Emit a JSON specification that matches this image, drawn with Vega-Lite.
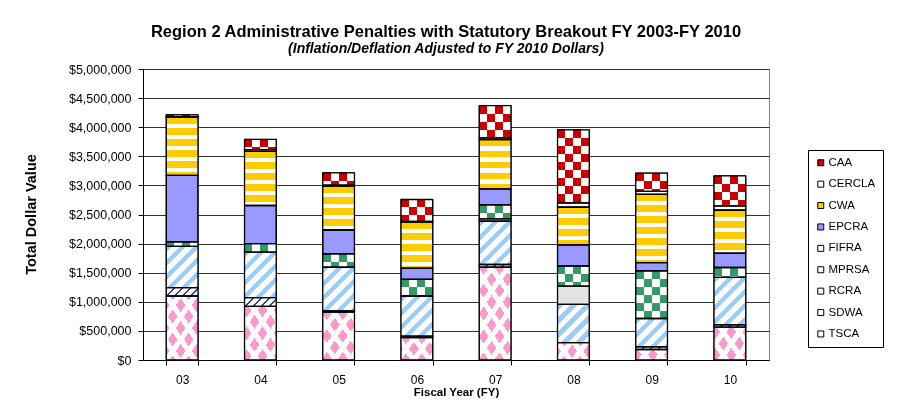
{
  "$schema": "https://vega.github.io/schema/vega-lite/v6.json",
  "width": 626,
  "height": 291,
  "autosize": {"type": "none"},
  "padding": {"left": 143, "top": 69, "right": 132, "bottom": 47},
  "background": "white",
  "title": {
    "text": "Region 2 Administrative Penalties with Statutory Breakout FY 2003-FY 2010",
    "subtitle": "(Inflation/Deflation Adjusted to FY 2010 Dollars)",
    "font": "Liberation Sans",
    "fontSize": 16.5,
    "fontWeight": "bold",
    "color": "#000",
    "subtitleFont": "Liberation Sans",
    "subtitleFontSize": 14,
    "subtitleFontWeight": "bold",
    "subtitleFontStyle": "italic",
    "subtitleColor": "#000",
    "subtitlePadding": 2,
    "anchor": "middle",
    "frame": "group",
    "offset": 7,
    "dx": -10
  },
  "params": [
    {"name": "vStops", "value": [{"offset":0,"color":"#000"},{"offset":0.25,"color":"#000"},{"offset":0.25,"color":"#fff"},{"offset":0.5,"color":"#fff"},{"offset":0.5,"color":"#000"},{"offset":0.75,"color":"#000"},{"offset":0.75,"color":"#fff"},{"offset":1,"color":"#fff"}]},
    {"name": "hStops", "value": [{"offset":0,"color":"#000"},{"offset":0.1,"color":"#000"},{"offset":0.1,"color":"#fff"},{"offset":0.2,"color":"#fff"},{"offset":0.2,"color":"#000"},{"offset":0.3,"color":"#000"},{"offset":0.3,"color":"#fff"},{"offset":0.4,"color":"#fff"},{"offset":0.4,"color":"#000"},{"offset":0.5,"color":"#000"},{"offset":0.5,"color":"#fff"},{"offset":0.6,"color":"#fff"},{"offset":0.6,"color":"#000"},{"offset":0.7,"color":"#000"},{"offset":0.7,"color":"#fff"},{"offset":0.8,"color":"#fff"},{"offset":0.8,"color":"#000"},{"offset":0.9,"color":"#000"},{"offset":0.9,"color":"#fff"},{"offset":1,"color":"#fff"}]},
    {"name": "cwaStops", "value": [{"offset":0,"color":"#000"},{"offset":0.084286,"color":"#000"},{"offset":0.084286,"color":"#fff"},{"offset":0.142857,"color":"#fff"},{"offset":0.142857,"color":"#000"},{"offset":0.227143,"color":"#000"},{"offset":0.227143,"color":"#fff"},{"offset":0.285714,"color":"#fff"},{"offset":0.285714,"color":"#000"},{"offset":0.37,"color":"#000"},{"offset":0.37,"color":"#fff"},{"offset":0.428571,"color":"#fff"},{"offset":0.428571,"color":"#000"},{"offset":0.512857,"color":"#000"},{"offset":0.512857,"color":"#fff"},{"offset":0.571429,"color":"#fff"},{"offset":0.571429,"color":"#000"},{"offset":0.655714,"color":"#000"},{"offset":0.655714,"color":"#fff"},{"offset":0.714286,"color":"#fff"},{"offset":0.714286,"color":"#000"},{"offset":0.798571,"color":"#000"},{"offset":0.798571,"color":"#fff"},{"offset":0.857143,"color":"#fff"},{"offset":0.857143,"color":"#000"},{"offset":0.941429,"color":"#000"},{"offset":0.941429,"color":"#fff"},{"offset":1,"color":"#fff"}]},
    {"name": "rcraStops", "value": [{"offset":0,"color":"#000"},{"offset":0.064286,"color":"#000"},{"offset":0.064286,"color":"#fff"},{"offset":0.142857,"color":"#fff"},{"offset":0.142857,"color":"#000"},{"offset":0.207143,"color":"#000"},{"offset":0.207143,"color":"#fff"},{"offset":0.285714,"color":"#fff"},{"offset":0.285714,"color":"#000"},{"offset":0.35,"color":"#000"},{"offset":0.35,"color":"#fff"},{"offset":0.428571,"color":"#fff"},{"offset":0.428571,"color":"#000"},{"offset":0.492857,"color":"#000"},{"offset":0.492857,"color":"#fff"},{"offset":0.571429,"color":"#fff"},{"offset":0.571429,"color":"#000"},{"offset":0.635714,"color":"#000"},{"offset":0.635714,"color":"#fff"},{"offset":0.714286,"color":"#fff"},{"offset":0.714286,"color":"#000"},{"offset":0.778571,"color":"#000"},{"offset":0.778571,"color":"#fff"},{"offset":0.857143,"color":"#fff"},{"offset":0.857143,"color":"#000"},{"offset":0.921429,"color":"#000"},{"offset":0.921429,"color":"#fff"},{"offset":1,"color":"#fff"}]},
    {"name": "tscaStops", "value": [{"offset":0,"color":"#000"},{"offset":0.085714,"color":"#000"},{"offset":0.085714,"color":"#fff"},{"offset":0.142857,"color":"#fff"},{"offset":0.142857,"color":"#000"},{"offset":0.228571,"color":"#000"},{"offset":0.228571,"color":"#fff"},{"offset":0.285714,"color":"#fff"},{"offset":0.285714,"color":"#000"},{"offset":0.371429,"color":"#000"},{"offset":0.371429,"color":"#fff"},{"offset":0.428571,"color":"#fff"},{"offset":0.428571,"color":"#000"},{"offset":0.514286,"color":"#000"},{"offset":0.514286,"color":"#fff"},{"offset":0.571429,"color":"#fff"},{"offset":0.571429,"color":"#000"},{"offset":0.657143,"color":"#000"},{"offset":0.657143,"color":"#fff"},{"offset":0.714286,"color":"#fff"},{"offset":0.714286,"color":"#000"},{"offset":0.8,"color":"#000"},{"offset":0.8,"color":"#fff"},{"offset":0.857143,"color":"#fff"},{"offset":0.857143,"color":"#000"},{"offset":0.942857,"color":"#000"},{"offset":0.942857,"color":"#fff"},{"offset":1,"color":"#fff"}]},
    {"name": "sdwaStops", "value": [{"offset":0,"color":"#000"},{"offset":0.041667,"color":"#000"},{"offset":0.041667,"color":"#fff"},{"offset":0.166667,"color":"#fff"},{"offset":0.166667,"color":"#000"},{"offset":0.208333,"color":"#000"},{"offset":0.208333,"color":"#fff"},{"offset":0.333333,"color":"#fff"},{"offset":0.333333,"color":"#000"},{"offset":0.375,"color":"#000"},{"offset":0.375,"color":"#fff"},{"offset":0.5,"color":"#fff"},{"offset":0.5,"color":"#000"},{"offset":0.541667,"color":"#000"},{"offset":0.541667,"color":"#fff"},{"offset":0.666667,"color":"#fff"},{"offset":0.666667,"color":"#000"},{"offset":0.708333,"color":"#000"},{"offset":0.708333,"color":"#fff"},{"offset":0.833333,"color":"#fff"},{"offset":0.833333,"color":"#000"},{"offset":0.875,"color":"#000"},{"offset":0.875,"color":"#fff"},{"offset":1,"color":"#fff"}]}
  ],
  "data": {
    "values": [
      {"year": "03", "statute": "CAA", "value": 30000},
      {"year": "03", "statute": "CERCLA", "value": 10000},
      {"year": "03", "statute": "CWA", "value": 1000000},
      {"year": "03", "statute": "EPCRA", "value": 1145000},
      {"year": "03", "statute": "FIFRA", "value": 75000},
      {"year": "03", "statute": "RCRA", "value": 710000},
      {"year": "03", "statute": "SDWA", "value": 143000},
      {"year": "03", "statute": "TSCA", "value": 1100000},
      {"year": "04", "statute": "CAA", "value": 175000},
      {"year": "04", "statute": "CERCLA", "value": 30000},
      {"year": "04", "statute": "CWA", "value": 930000},
      {"year": "04", "statute": "EPCRA", "value": 657000},
      {"year": "04", "statute": "FIFRA", "value": 144000},
      {"year": "04", "statute": "RCRA", "value": 782000},
      {"year": "04", "statute": "SDWA", "value": 150000},
      {"year": "04", "statute": "TSCA", "value": 922000},
      {"year": "05", "statute": "CAA", "value": 212000},
      {"year": "05", "statute": "CERCLA", "value": 15000},
      {"year": "05", "statute": "CWA", "value": 755000},
      {"year": "05", "statute": "EPCRA", "value": 412000},
      {"year": "05", "statute": "FIFRA", "value": 228000},
      {"year": "05", "statute": "RCRA", "value": 750000},
      {"year": "05", "statute": "SDWA", "value": 20000},
      {"year": "05", "statute": "TSCA", "value": 824000},
      {"year": "06", "statute": "CAA", "value": 378000},
      {"year": "06", "statute": "CERCLA", "value": 10000},
      {"year": "06", "statute": "CWA", "value": 790000},
      {"year": "06", "statute": "EPCRA", "value": 194000},
      {"year": "06", "statute": "FIFRA", "value": 286000},
      {"year": "06", "statute": "RCRA", "value": 690000},
      {"year": "06", "statute": "SDWA", "value": 25000},
      {"year": "06", "statute": "TSCA", "value": 385000},
      {"year": "07", "statute": "CAA", "value": 555000},
      {"year": "07", "statute": "CERCLA", "value": 30000},
      {"year": "07", "statute": "CWA", "value": 846000},
      {"year": "07", "statute": "EPCRA", "value": 275000},
      {"year": "07", "statute": "FIFRA", "value": 240000},
      {"year": "07", "statute": "MPRSA", "value": 40000},
      {"year": "07", "statute": "RCRA", "value": 743000},
      {"year": "07", "statute": "SDWA", "value": 45000},
      {"year": "07", "statute": "TSCA", "value": 1596000},
      {"year": "08", "statute": "CAA", "value": 1255000},
      {"year": "08", "statute": "CERCLA", "value": 75000},
      {"year": "08", "statute": "CWA", "value": 646000},
      {"year": "08", "statute": "EPCRA", "value": 366000},
      {"year": "08", "statute": "FIFRA", "value": 343000},
      {"year": "08", "statute": "MPRSA", "value": 314000},
      {"year": "08", "statute": "RCRA", "value": 657000},
      {"year": "08", "statute": "TSCA", "value": 299000},
      {"year": "09", "statute": "CAA", "value": 314000},
      {"year": "09", "statute": "CERCLA", "value": 50000},
      {"year": "09", "statute": "CWA", "value": 1172000},
      {"year": "09", "statute": "EPCRA", "value": 144000},
      {"year": "09", "statute": "FIFRA", "value": 817000},
      {"year": "09", "statute": "RCRA", "value": 488000},
      {"year": "09", "statute": "SDWA", "value": 45000},
      {"year": "09", "statute": "TSCA", "value": 180000},
      {"year": "10", "statute": "CAA", "value": 515000},
      {"year": "10", "statute": "CERCLA", "value": 75000},
      {"year": "10", "statute": "CWA", "value": 737000},
      {"year": "10", "statute": "EPCRA", "value": 247000},
      {"year": "10", "statute": "FIFRA", "value": 171000},
      {"year": "10", "statute": "RCRA", "value": 812000},
      {"year": "10", "statute": "SDWA", "value": 40000},
      {"year": "10", "statute": "TSCA", "value": 566000}
    ]
  },
  "encoding": {
    "x": {
      "field": "year",
      "type": "nominal",
      "scale": {"paddingInner": 0.595, "paddingOuter": 0.2975},
      "axis": {
        "title": "Fiscal Year (FY)",
        "labelAngle": 0,
        "tickBand": "extent",
        "tickSize": 5,
        "labelPadding": 9,
        "titlePadding": 1,
        "titleFontSize": 11.5,
        "titleFontWeight": "bold",
        "grid": false
      }
    },
    "y": {
      "field": "value",
      "type": "quantitative",
      "stack": "zero",
      "scale": {"domain": [0, 5000000], "nice": false},
      "axis": {
        "title": "Total Dollar Value",
        "format": "$,.0f",
        "tickCount": 10,
        "grid": true,
        "gridColor": "#303030",
        "tickSize": 5,
        "labelPadding": 7,
        "labelFontSize": 12.5,
        "titleX": -112,
        "titleY": 145,
        "titleAngle": -90,
        "titleAlign": "center",
        "titleBaseline": "middle",
        "titleFontSize": 14.5,
        "titleFontWeight": "bold"
      }
    },
    "order": {"field": "statute", "type": "ordinal", "sort": "descending"},
    "detail": {"field": "statute", "type": "nominal"}
  },
  "layer": [
    {
      "mark": {"type": "bar", "stroke": "#000", "strokeWidth": 1},
      "encoding": {
        "fill": {
          "field": "statute",
          "type": "nominal",
          "scale": {
            "domain": ["CAA", "CERCLA", "CWA", "EPCRA", "FIFRA", "MPRSA", "RCRA", "SDWA", "TSCA"],
            "range": ["#cc0000", "#ffffff", "#ffcc00", "#9999ff", "#ffffff", "#ffffff", "#ffffff", "#ffffff", "#ffffff"]
          },
          "legend": {
            "orient": "none",
            "legendX": 665,
            "legendY": 81,
            "title": null,
            "strokeColor": "#000",
            "fillColor": "#fff",
            "padding": 7,
            "symbolType": "square",
            "symbolSize": 36,
            "symbolStrokeColor": "#000",
            "symbolStrokeWidth": 1,
            "labelFont": "Liberation Sans",
            "labelFontSize": 11.5,
            "labelColor": "#000",
            "labelOffset": 2,
            "rowPadding": 8.4
          }
        }
      }
    },
    {
      "mark": {"type": "bar"},
      "encoding": {
        "fill": {"value": {"expr": "(datum.statute=='CAA'||datum.statute=='FIFRA') ? {gradient:'linear',x1:0,y1:0,x2:1,y2:0,stops:vStops} : datum.statute=='CWA' ? {gradient:'linear',x1:0,y1:0,x2:0,y2:77/max(0.5,scale('y',datum.value_start)-scale('y',datum.value_end)),stops:cwaStops} : datum.statute=='RCRA' ? {gradient:'linear',x1:0,y1:0,x2:98*bandwidth('x')/(pow(bandwidth('x'),2)+pow(max(0.5,scale('y',datum.value_start)-scale('y',datum.value_end)),2)),y2:98*max(0.5,scale('y',datum.value_start)-scale('y',datum.value_end))/(pow(bandwidth('x'),2)+pow(max(0.5,scale('y',datum.value_start)-scale('y',datum.value_end)),2)),stops:rcraStops} : datum.statute=='TSCA' ? {gradient:'linear',x1:0,y1:0,x2:112*bandwidth('x')/(pow(bandwidth('x'),2)+0.49*pow(max(0.5,scale('y',datum.value_start)-scale('y',datum.value_end)),2)),y2:78.4*max(0.5,scale('y',datum.value_start)-scale('y',datum.value_end))/(pow(bandwidth('x'),2)+0.49*pow(max(0.5,scale('y',datum.value_start)-scale('y',datum.value_end)),2)),stops:tscaStops} : datum.statute=='SDWA' ? {gradient:'linear',x1:0,y1:0,x2:48*bandwidth('x')/(pow(bandwidth('x'),2)+pow(max(0.5,scale('y',datum.value_start)-scale('y',datum.value_end)),2)),y2:48*max(0.5,scale('y',datum.value_start)-scale('y',datum.value_end))/(pow(bandwidth('x'),2)+pow(max(0.5,scale('y',datum.value_start)-scale('y',datum.value_end)),2)),stops:sdwaStops} : datum.statute=='MPRSA' ? '#e3e3e3' : 'transparent'"}}
      }
    },
    {
      "mark": {"type": "bar", "blend": "difference"},
      "encoding": {
        "fill": {"value": {"expr": "(datum.statute=='CAA'||datum.statute=='FIFRA') ? {gradient:'linear',x1:0,y1:0,x2:0,y2:80/max(0.5,scale('y',datum.value_start)-scale('y',datum.value_end)),stops:hStops} : 'transparent'"}}
      }
    },
    {
      "mark": {"type": "bar", "blend": "lighten"},
      "encoding": {
        "fill": {"value": {"expr": "datum.statute=='TSCA' ? {gradient:'linear',x1:0,y1:1,x2:112*bandwidth('x')/(pow(bandwidth('x'),2)+0.49*pow(max(0.5,scale('y',datum.value_start)-scale('y',datum.value_end)),2)),y2:1-78.4*max(0.5,scale('y',datum.value_start)-scale('y',datum.value_end))/(pow(bandwidth('x'),2)+0.49*pow(max(0.5,scale('y',datum.value_start)-scale('y',datum.value_end)),2)),stops:tscaStops} : 'transparent'"}}
      }
    },
    {
      "mark": {"type": "bar", "blend": "screen"},
      "encoding": {
        "fill": {"value": {"expr": "datum.statute=='CAA' ? '#cc0000' : datum.statute=='FIFRA' ? '#339966' : datum.statute=='TSCA' ? '#ff99cc' : datum.statute=='CWA' ? '#ffcc00' : datum.statute=='RCRA' ? '#99ccff' : datum.statute=='SDWA' ? '#333399' : 'transparent'"}}
      }
    },
    {
      "mark": {"type": "bar", "fillOpacity": 0, "stroke": "#000", "strokeWidth": 1.3},
      "encoding": {}
    }
  ],
  "config": {
    "font": "Liberation Sans",
    "view": {"stroke": "#808080", "strokeWidth": 1},
    "axis": {
      "labelFont": "Liberation Sans",
      "labelFontSize": 12,
      "labelColor": "#000",
      "titleFont": "Liberation Sans",
      "titleColor": "#000",
      "domainColor": "#000",
      "tickColor": "#000"
    }
  }
}
